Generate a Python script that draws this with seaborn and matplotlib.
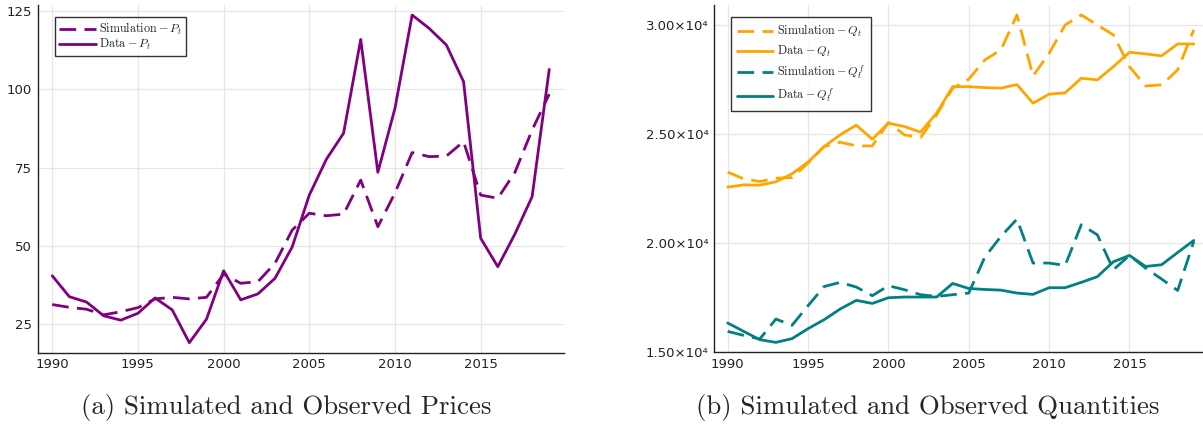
import matplotlib
matplotlib.use("Agg")
import matplotlib.pyplot as plt
import matplotlib.ticker as mticker
import numpy as np
import pandas as pd
import seaborn as sns

years = list(range(1990, 2020))

# Prices
price_sim = [31.2, 30.3, 29.7, 27.9, 28.9, 30.2, 33.0, 33.5, 33.0, 33.5,
             40.9, 38.0, 38.5, 44.4, 55.0, 60.4, 59.6, 60.1, 71.0, 56.1,
             66.9, 79.8, 78.5, 78.7, 83.3, 66.2, 65.2, 73.5, 87.0, 98.5]
price_data = [40.4, 33.7, 32.0, 27.6, 26.2, 28.4, 33.3, 29.5, 19.0, 26.5,
              42.0, 32.7, 34.6, 39.6, 49.6, 66.2, 77.7, 86.0, 116.0, 73.5,
              94.0, 123.8, 119.5, 114.2, 102.5, 52.4, 43.3, 53.8, 65.7, 106.4]

# Quantities
q_sim = [23240, 22935, 22810, 22965, 22990, 23655, 24415, 24615, 24445, 24445,
         25515, 24950, 24825, 25865, 27085, 27500, 28385, 28840, 30445, 27650,
         28690, 29985, 30445, 29985, 29530, 28075, 27190, 27240, 27925, 29760]
q_data = [22555, 22660, 22645, 22800, 23165, 23700, 24415, 24950, 25395, 24750,
          25485, 25330, 25075, 25945, 27160, 27160, 27115, 27090, 27255, 26400,
          26815, 26875, 27545, 27470, 28075, 28735, 28660, 28570, 29115, 29115]
qf_sim = [15943, 15760, 15595, 16510, 16220, 17120, 18000, 18190, 17975, 17580,
          18035, 17853, 17625, 17545, 17625, 17700, 19350, 20293, 21090, 19075,
          19075, 18965, 20830, 20370, 18770, 19425, 18847, 18342, 17820, 20065]
qf_data = [16328, 15943, 15563, 15440, 15610, 16067, 16480, 16970, 17365, 17225,
           17485, 17518, 17518, 17518, 18140, 17910, 17865, 17835, 17700, 17640,
           17945, 17945, 18190, 18450, 19135, 19425, 18920, 18997, 19560, 20110]

price_labels = [r"$\mathrm{Simulation} - P_t$", r"$\mathrm{Data} - P_t$"]
qty_labels = [r"$\mathrm{Simulation} - Q_t$", r"$\mathrm{Data} - Q_t$",
              r"$\mathrm{Simulation} - Q_t^f$", r"$\mathrm{Data} - Q_t^f$"]
captions = ["(a) Simulated and Observed Prices",
            "(b) Simulated and Observed Quantities"]

PURPLE = "#800080"
ORANGE = "#FFA500"
TEAL = "#008080"
DASH = (0, (6, 3))

sns.set_style("white")
plt.rcParams["font.family"] = ["DejaVu Sans"]
plt.rcParams["mathtext.fontset"] = "cm"

fig = plt.figure(figsize=(12.03, 4.36), dpi=100)
ax1 = fig.add_axes([0.0313, 0.1911, 0.4378, 0.7974])
ax2 = fig.add_axes([0.5938, 0.1927, 0.4096, 0.7958])

df_p = pd.DataFrame({"year": years, "sim": price_sim, "data": price_data})
df_q = pd.DataFrame({"year": years, "qsim": q_sim, "qdata": q_data,
                     "qfsim": qf_sim, "qfdata": qf_data})

lw = 2.0
sns.lineplot(data=df_p, x="year", y="sim", ax=ax1, color=PURPLE, lw=lw,
             linestyle=DASH, label=price_labels[0])
sns.lineplot(data=df_p, x="year", y="data", ax=ax1, color=PURPLE, lw=lw,
             label=price_labels[1])

sns.lineplot(data=df_q, x="year", y="qsim", ax=ax2, color=ORANGE, lw=lw,
             linestyle=DASH, label=qty_labels[0])
sns.lineplot(data=df_q, x="year", y="qdata", ax=ax2, color=ORANGE, lw=lw,
             label=qty_labels[1])
sns.lineplot(data=df_q, x="year", y="qfsim", ax=ax2, color=TEAL, lw=lw,
             linestyle=DASH, label=qty_labels[2])
sns.lineplot(data=df_q, x="year", y="qfdata", ax=ax2, color=TEAL, lw=lw,
             label=qty_labels[3])

ax1.set_xlim(1989.15, 2019.88)
ax1.set_ylim(15.8, 127)
ax1.set_yticks([25, 50, 75, 100, 125])
ax2.set_xlim(1989.17, 2019.83)
ax2.set_ylim(15000, 30900)
ax2.set_yticks([15000, 20000, 25000, 30000])


def sci_fmt(v, pos):
    return f"{v / 1e4:.2f}\u00d710\u2074"


ax2.yaxis.set_major_formatter(mticker.FuncFormatter(sci_fmt))

for ax, spacing, bpad in ((ax1, -0.05, 0.35), (ax2, 0.4, 0.5)):
    ax.set_xticks([1990, 1995, 2000, 2005, 2010, 2015])
    ax.set_xlabel("")
    ax.set_ylabel("")
    ax.grid(True, color="#e6e6e6", lw=0.9)
    ax.set_axisbelow(True)
    for s in ("top", "right"):
        ax.spines[s].set_visible(False)
    for s in ("left", "bottom"):
        ax.spines[s].set_color("#222222")
        ax.spines[s].set_linewidth(1.0)
    ax.tick_params(direction="in", length=4, width=0.8, color="#222222",
                   labelsize=9.5, labelcolor="#222222", pad=4)
    leg = ax.legend(loc="upper left", fontsize=8.7, frameon=True, fancybox=False,
                    handlelength=3.0, handletextpad=0.3, borderpad=bpad,
                    labelspacing=spacing, borderaxespad=0.0,
                    bbox_to_anchor=(0.033, 0.965))
    leg.get_frame().set_edgecolor("black")
    leg.get_frame().set_linewidth(1.0)

fig.text(286 / 1203, 1 - 407 / 436, captions[0], family="cmr10", fontsize=19.3,
         ha="center", va="center")
fig.text(928 / 1203, 1 - 407 / 436, captions[1], family="cmr10", fontsize=19.3,
         ha="center", va="center")

fig.savefig("out.png", dpi=100)
